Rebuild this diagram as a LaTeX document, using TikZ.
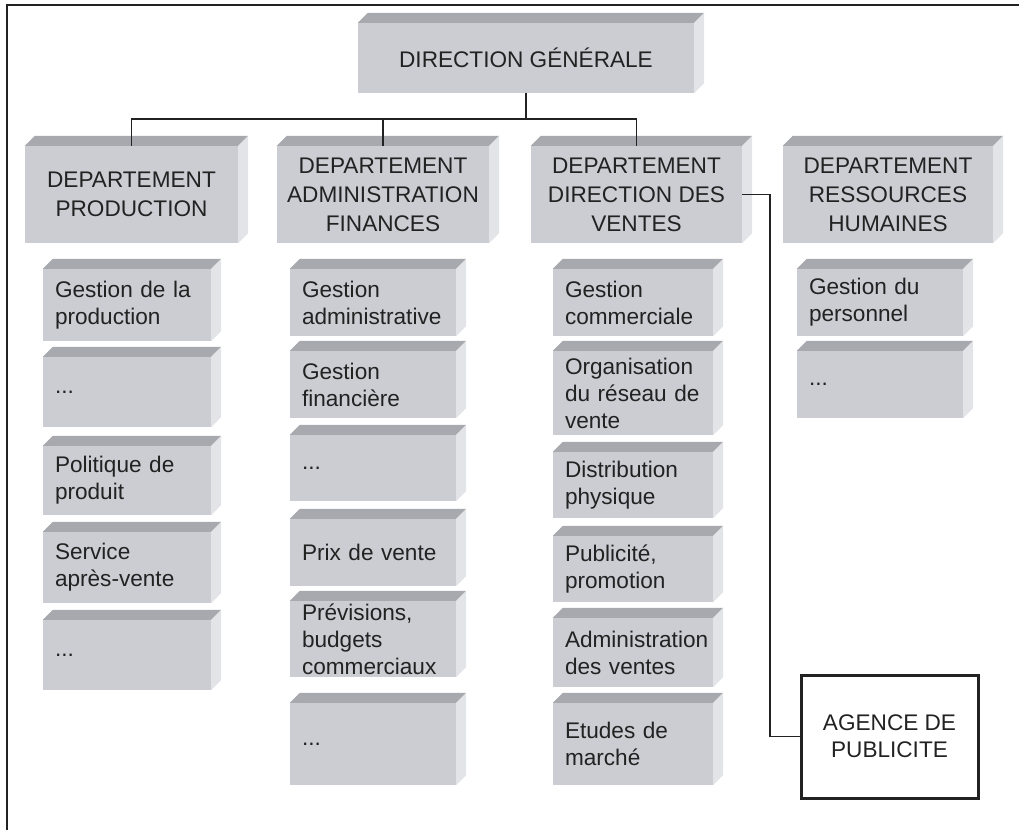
\documentclass[tikz,border=0pt]{standalone}
\usepackage{fontspec}
\setmainfont{Liberation Sans}
\usetikzlibrary{calc}
\definecolor{frontc}{HTML}{CBCDD3}
\definecolor{topc}{HTML}{A7A9AE}
\definecolor{sidec}{HTML}{E3E4E8}
\definecolor{ink}{HTML}{222222}
\newcommand\cubebox[4][c1]{%
  \node[#1] (#2) at (#3) {#4};
  \fill[topc] (#2.north west) -- ++(10,-10) -- ([shift={(10pt,10pt)}]#2.north east) -- (#2.north east) -- cycle;
  \fill[sidec] (#2.north east) -- ([shift={(10pt,10pt)}]#2.north east) -- ([shift={(10pt,10pt)}]#2.south east) -- (#2.south east) -- cycle;
}
\begin{document}
\begin{tikzpicture}[x=1pt,y=-1pt,
  font=\fontsize{22.6}{27}\selectfont, text=ink,
  face/.style={fill=frontc, inner sep=0pt},
  boss/.style={face, align=center, minimum width=336pt, minimum height=70pt},
  dept/.style={face, align=center, font=\fontsize{22.6}{29}\selectfont, minimum height=97pt},
  sub/.style={face, align=left, inner xsep=12pt},
  c1/.style={sub, text width=144pt},
  c2/.style={sub, text width=142pt},
  c3/.style={sub, text width=136pt},
  c4/.style={sub, text width=142pt},
  link/.style={draw=ink, line width=1.7pt},
  frame/.style={draw=ink, line width=2.5pt},
  agency/.style={draw=ink, line width=3pt, fill=white, align=center, minimum width=177pt, minimum height=123pt, inner sep=0pt}
]
\useasboundingbox (0,0) rectangle (1019,830);
% outer frame (top and left edges visible)
\coordinate (ftl) at (7,5);
\coordinate (ftr) at (1019,5);
\coordinate (fbl) at (7,830);
\draw[frame] (ftr) -- (ftl) -- (fbl);

% top box
\cubebox[boss]{G}{526,58}{DIRECTION GÉNÉRALE}

% departments
\cubebox[dept,minimum width=213pt]{D1}{131.5,194.5}{DEPARTEMENT\\PRODUCTION}
\cubebox[dept,minimum width=212pt]{D2}{383,194.5}{DEPARTEMENT\\ADMINISTRATION\\FINANCES}
\cubebox[dept,minimum width=211pt]{D3}{636.5,194.5}{DEPARTEMENT\\DIRECTION DES\\VENTES}
\cubebox[dept,minimum width=210pt]{D4}{888,194.5}{DEPARTEMENT\\RESSOURCES\\HUMAINES}

% column 1
\cubebox[c1,minimum height=72pt]{a1}{127,305}{Gestion de la\\production}
\cubebox[c1,minimum height=70pt]{a2}{127,392}{...}
\cubebox[c1,minimum height=69pt]{a3}{127,480.5}{Politique de\\produit}
\cubebox[c1,minimum height=71pt]{a4}{127,567.5}{Service\\après-vente}
\cubebox[c1,minimum height=70pt]{a5}{127,655}{...}

% column 2
\cubebox[c2,minimum height=67pt]{b1}{373,302.5}{Gestion\\administrative}
\cubebox[c2,minimum height=67pt]{b2}{373,384.5}{Gestion\\financière}
\cubebox[c2,minimum height=66pt]{b3}{373,468}{...}
\cubebox[c2,minimum height=67pt]{b4}{373,552.5}{Prix de vente}
\cubebox[c2,minimum height=76pt]{b5}{373,639}{Prévisions,\\budgets\\commerciaux}
\cubebox[c2,minimum height=82pt]{b6}{373,744}{...}

% column 3
\cubebox[c3,minimum height=67pt]{v1}{633,302.5}{Gestion\\commerciale}
\cubebox[c3,minimum height=84pt]{v2}{633,393}{Organisation\\du réseau de\\vente}
\cubebox[c3,minimum height=66pt]{v3}{633,485}{Distribution\\physique}
\cubebox[c3,minimum height=66pt]{v4}{633,569}{Publicité,\\promotion}
\cubebox[c3,minimum height=69pt]{v5}{633,652.5}{Administration\\des ventes}
\cubebox[c3,minimum height=82pt]{v6}{633,744}{Etudes de\\marché}

% column 4
\cubebox[c4,minimum height=67pt]{h1}{880,302.5}{Gestion du\\personnel}
\cubebox[c4,minimum height=67pt]{h2}{880,384.5}{...}

% agency
\node[agency] (A) at (889.5,736.5) {AGENCE DE\\PUBLICITE};

% connectors
\coordinate (bus) at (0,119);
\draw[link] (G.south) -- (G.south |- bus);
\draw[link] (D1.north) |- (D3.north |- bus) -- (D3.north);
\draw[link] (D2.north) -- (D2.north |- bus);
\draw[link] (D3.east) -- ++(28,0) |- (A.west);
\end{tikzpicture}
\end{document}
